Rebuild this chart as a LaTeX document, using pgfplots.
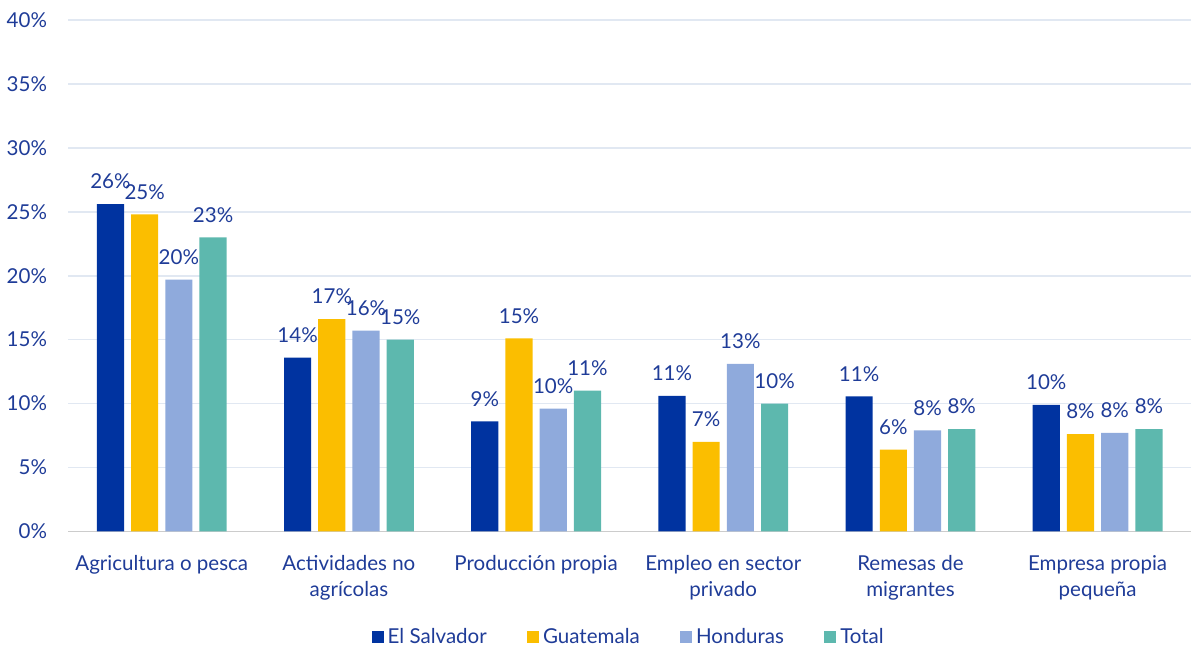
\documentclass[border=0pt]{standalone}
\usepackage{fontspec}
\setmainfont{Lato}
\usepackage{pgfplots}
\pgfplotsset{compat=1.18}

\definecolor{txt}{HTML}{1F3C98}
\definecolor{esal}{HTML}{0033A0}
\definecolor{guat}{HTML}{FBBE00}
\definecolor{hond}{HTML}{8FAADC}
\definecolor{tot}{HTML}{5DB8AE}
\definecolor{gridc}{HTML}{E1E8F2}

\begin{document}
\begin{tikzpicture}
\begin{axis}[
    width=558pt, height=254pt,
    scale only axis,
    ybar=3.5pt,
    bar width=13.5pt,
    ymin=0, ymax=40,
    ytick={0,5,...,40},
    xmin=-0.5, xmax=5.5,
    xtick=data,
    xticklabels={Agricultura o pesca, Actividades no\\agrícolas, Producción propia, Empleo en sector\\privado, Remesas de\\migrantes, Empresa propia\\pequeña},
    xticklabel style={align=center, font=\fontsize{10.2}{13}\selectfont, text=txt, yshift=-8.5pt},
    yticklabel={\pgfmathprintnumber{\tick}\%},
    yticklabel style={font=\fontsize{10.2}{12}\selectfont, text=txt, xshift=-7pt},
    /pgf/number format/assume math mode=true,
    major tick length=0pt,
    axis line style={draw=none},
    ymajorgrids,
    grid style={gridc, line width=0.8pt},
    extra y ticks={0},
    extra y tick labels={},
    extra y tick style={grid style={draw=black!20, line width=0.8pt}},
    nodes near coords={\pgfmathprintnumber[fixed,precision=0]{\pgfplotspointmeta}\%},
    every node near coord/.append style={font=\fontsize{10.2}{12}\selectfont, text=txt, yshift=4pt},
    legend style={at={(0.5,-0.2)}, anchor=north, yshift=6pt, draw=none, legend columns=-1,
        inner sep=1pt, font=\fontsize{10.2}{12}\selectfont, text=txt,
        /tikz/every even column/.append style={column sep=18pt}},
    legend image code/.code={\fill[#1] (0pt,-3pt) rectangle (6pt,3pt);},
]
\addplot[fill=esal, draw=none] coordinates {(0,25.6) (1,13.6) (2,8.6) (3,10.6) (4,10.55) (5,9.9)};
\addplot[fill=guat, draw=none] coordinates {(0,24.8) (1,16.6) (2,15.1) (3,7.0) (4,6.4) (5,7.6)};
\addplot[fill=hond, draw=none] coordinates {(0,19.7) (1,15.7) (2,9.6) (3,13.1) (4,7.9) (5,7.7)};
\addplot[fill=tot, draw=none] coordinates {(0,23.0) (1,15.0) (2,11.0) (3,10.0) (4,8.0) (5,8.0)};
\legend{El Salvador, Guatemala, Honduras, Total}
\end{axis}
\path (current axis.north) ++(0,10pt);
\end{tikzpicture}
\end{document}
